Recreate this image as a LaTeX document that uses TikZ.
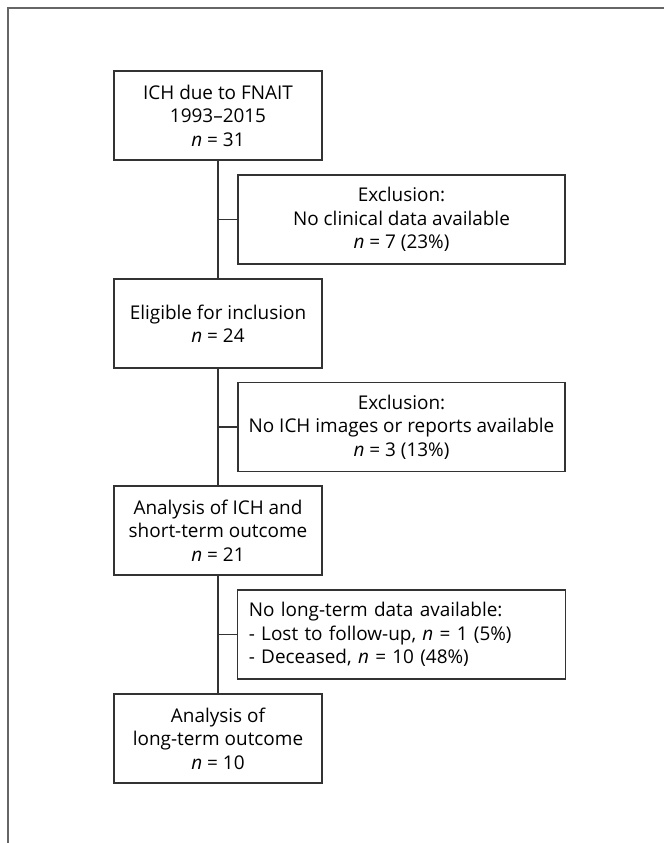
\documentclass[tikz,border=0pt]{standalone}
\usepackage{fontspec}
\setmainfont{Open Sans}
\usetikzlibrary{positioning}
\tikzset{
	box/.style={
			draw=black!80, line width=0.9pt, fill=white,
			minimum width=156pt, minimum height=66.75pt, inner xsep=2pt,
			align=center, font=\fontsize{14.2}{17.6}\selectfont
		},
	exclbox/.style={box, minimum width=245.25pt}
}

\begin{document}
\begin{tikzpicture}[x=0.75pt, y=-0.75pt]
        \useasboundingbox (0, 0) rectangle (664, 843);
        % frame of the figure panel
        \draw[line width=1.5pt, black!60] (8, 843) -- (8, 7.5) -- (664, 7.5);
        \coordinate (trunk) at (218, 0);
        % main column
        \node[box] (ich) at (218, 115.5) {ICH due to FNAIT\\1993--2015\\\textit{n} = 31};
        \node[box] (eligible) at (218, 323.5) {Eligible for inclusion\\\textit{n} = 24};
        \node[box] (shortterm) at (218, 530.5) {Analysis of ICH and\\short-term outcome\\\textit{n} = 21};
        \node[box] (longterm) at (218, 738.5) {Analysis of\\long-term outcome\\\textit{n} = 10};
        % exclusions
        \node[exclbox] (excl1) at (401.5, 219.5) {Exclusion:\\No clinical data available\\\textit{n} = 7 (23\%)};
        \node[exclbox] (excl2) at (401.5, 427) {Exclusion:\\No ICH images or reports available\\\textit{n} = 3 (13\%)};
        \node[exclbox, align=left, text width=229pt, inner xsep=8.25pt] (excl3) at (401.5, 634.5) {No long-term data available:\\- Lost to follow-up, \textit{n} = 1 (5\%)\\- Deceased, \textit{n} = 10 (48\%)};
        % connectors
        \draw[line width=0.9pt, black!80] (ich) -- (eligible);
        \draw[line width=0.9pt, black!80] (eligible) -- (shortterm);
        \draw[line width=0.9pt, black!80] (shortterm) -- (longterm);
        \draw[line width=0.9pt, black!80] (excl1.west) -- (excl1.west -| trunk);
        \draw[line width=0.9pt, black!80] (excl2.west) -- (excl2.west -| trunk);
        \draw[line width=0.9pt, black!80] (excl3.west) -- (excl3.west -| trunk);
    \end{tikzpicture}
\end{document}
